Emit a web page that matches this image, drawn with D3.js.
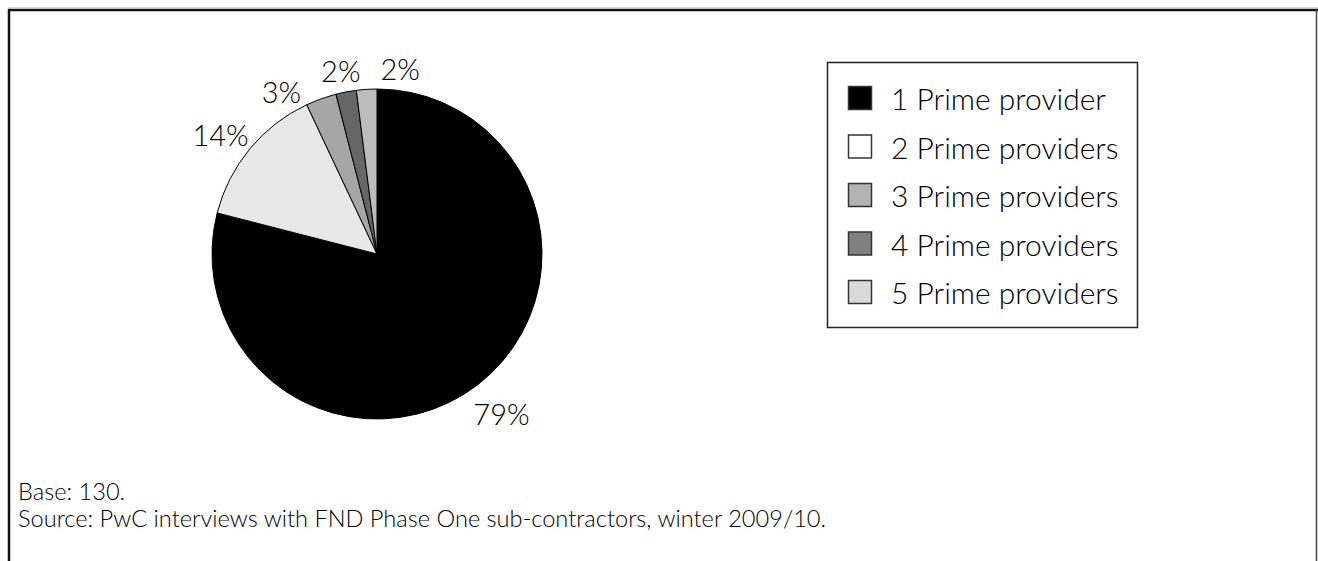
<!DOCTYPE html>
<html>
<head>
<meta charset="utf-8">
<script src="https://cdn.jsdelivr.net/npm/d3@7"></script>
<style>
  html, body { margin: 0; padding: 0; background: #ffffff; }
  svg { display: block; }
</style>
</head>
<body>
<svg id="chart" width="1318" height="561"></svg>
<script>
// ---- data ----
const categories = ["1 Prime provider", "2 Prime providers", "3 Prime providers", "4 Prime providers", "5 Prime providers"];
const values = [79, 14, 3, 2, 2];
const valueLabels = ["79%", "14%", "3%", "2%", "2%"];
const sliceFill = ["#000000", "#e8e8e8", "#a6a6a6", "#666666", "#bcbcbc"];
const swatchFill = ["#000000", "#ffffff", "#b3b3b3", "#808080", "#d9d9d9"];
const footnotes = ["Base: 130.", "Source: PwC interviews with FND Phase One sub-contractors, winter 2009/10."];

(function () {
const FONT = "Lato, 'Open Sans', 'Noto Sans', sans-serif";
const WEIGHT = 300;
const INK = "#000";
const svg = d3.select("#chart");
const W = 1318, H = 561;

// ---- frame ----
svg.append("line").attr("x1", 8).attr("x2", W).attr("y1", 7.5).attr("y2", 7.5)
  .attr("stroke", "#d8d8d8").attr("stroke-width", 1);
svg.append("line").attr("x1", 8).attr("x2", W).attr("y1", 10).attr("y2", 10)
  .attr("stroke", "#111").attr("stroke-width", 2.5);
svg.append("line").attr("x1", 9).attr("x2", 9).attr("y1", 9).attr("y2", H)
  .attr("stroke", "#111").attr("stroke-width", 2.5);
svg.append("line").attr("x1", 1316.5).attr("x2", 1316.5).attr("y1", 10).attr("y2", H)
  .attr("stroke", "#444").attr("stroke-width", 1.5);

// ---- pie ----
const cx = 377, cy = 254, r = 165;
const pie = d3.pie().sort(null).value(d => d)(values);
const arc = d3.arc().innerRadius(0).outerRadius(r);
const g = svg.append("g").attr("transform", `translate(${cx},${cy})`);
g.selectAll("path.slice").data(pie).join("path")
  .attr("class", "slice")
  .attr("d", arc)
  .attr("fill", (d, i) => sliceFill[i])
  .attr("stroke", "#000")
  .attr("stroke-width", 1)
  .attr("stroke-linejoin", "round");

// ---- labels ----
const labelSize = 29;
const gap = 10, boxUp = 24, boxDown = 54;
const measure = svg.append("text").attr("font-family", FONT).attr("font-weight", WEIGHT)
  .attr("font-size", labelSize).attr("visibility", "hidden");
const lab = pie.map((d, i) => {
  measure.text(valueLabels[i]);
  const w = measure.node().getComputedTextLength();
  const a = (d.startAngle + d.endAngle) / 2;
  const s = Math.sin(a), c = Math.cos(a);
  const bh = c > 0 ? boxUp : boxDown;
  return {
    i, w, a,
    x: (r + gap) * s + (w / 2) * s,
    y: -(r + gap) * c - (bh / 2) * c
  };
});
measure.remove();

// spread overlapping labels in the upper half horizontally
const upper = lab.filter(l => l.y < -r * 0.6).sort((p, q) => p.x - q.x);
const groups = [];
upper.forEach(l => {
  const last = groups.length ? groups[groups.length - 1] : null;
  if (last) {
    const p = last[last.length - 1];
    if (l.x - p.x < (l.w + p.w) / 2 + 4) { last.push(l); return; }
  }
  groups.push([l]);
});
groups.forEach(grp => {
  if (grp.length < 2) return;
  const mean = d3.mean(grp, l => l.x) + 2;
  const step = d3.max(grp, l => l.w) + 20;
  grp.forEach((l, k) => {
    l.x = mean + (k - (grp.length - 1) / 2) * step;
    const s = l.x / (r + gap + l.w / 2);
    const c = Math.sqrt(Math.max(0, 1 - s * s));
    l.y = -(r + gap) * c - (boxUp / 2) * c;
  });
});

g.selectAll("text.lbl").data(lab).join("text")
  .attr("class", "lbl")
  .attr("x", d => d.x)
  .attr("y", d => d.y)
  .attr("text-anchor", "middle")
  .attr("dominant-baseline", "central")
  .attr("font-family", FONT)
  .attr("font-weight", WEIGHT)
  .attr("font-size", labelSize)
  .attr("fill", INK)
  .text(d => valueLabels[d.i]);

// ---- legend ----
const lx = 827, ly = 62, lw = 310, lh = 265;
svg.append("rect").attr("x", lx + 0.5).attr("y", ly + 0.5).attr("width", lw).attr("height", lh)
  .attr("fill", "#fff").attr("stroke", "#222").attr("stroke-width", 1.5);
const rowY = d3.scalePoint().domain(categories).range([ly + 36, ly + 230]);
const leg = svg.append("g").selectAll("g").data(categories).join("g")
  .attr("transform", d => `translate(${lx + 21},${rowY(d)})`);
leg.append("rect").attr("x", 0.5).attr("y", -11.5).attr("width", 23).attr("height", 23)
  .attr("fill", (d, i) => swatchFill[i]).attr("stroke", "#333").attr("stroke-width", 1.5);
leg.append("text").attr("x", 43).attr("y", 0)
  .attr("dominant-baseline", "central")
  .attr("font-family", FONT).attr("font-weight", WEIGHT)
  .attr("font-size", 30).attr("fill", INK)
  .text(d => d);

// ---- footnotes ----
svg.selectAll("text.foot").data(footnotes).join("text")
  .attr("class", "foot")
  .attr("x", 18)
  .attr("y", (d, i) => 500 + i * 27)
  .attr("font-family", FONT).attr("font-weight", WEIGHT)
  .attr("font-size", 23.6).attr("fill", INK)
  .text(d => d);
})();
</script>
</body>
</html>
